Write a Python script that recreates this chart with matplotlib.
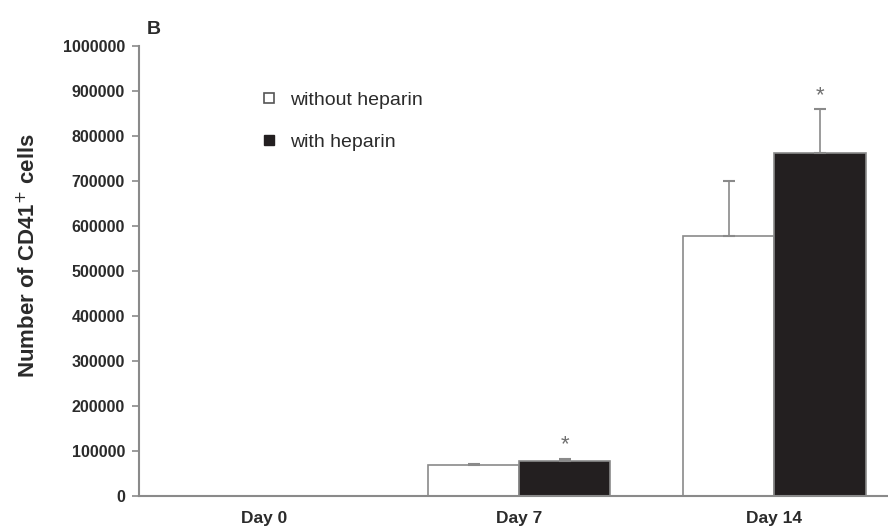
import numpy as np
import matplotlib.pyplot as plt
from matplotlib.lines import Line2D

plt.rcParams["font.family"] = ["Liberation Sans", "DejaVu Sans"]

days = ["Day 0", "Day 7", "Day 14"]
without_heparin = [0, 68000, 577000]
without_err = [0, 3000, 124000]
with_heparin = [0, 77000, 762000]
with_err = [0, 6000, 97000]
signif = [False, True, True]

AXIS_GREY = "#8a8a8a"
TEXT = "#2b2b2b"
BLACK_BAR = "#231f20"

fig = plt.figure(figsize=(8.88, 5.26), dpi=100)
ax = fig.add_axes([0.1565, 0.057, 0.845, 0.8555])

x = np.arange(len(days))
w = 0.357
ax.bar(x - w / 2, without_heparin, w, color="white", edgecolor=AXIS_GREY, linewidth=1.2)
ax.bar(x + w / 2, with_heparin, w, color=BLACK_BAR, edgecolor=AXIS_GREY, linewidth=1.2)

# one-sided error bars (upper only)
for xs, vals, errs in [(x - w / 2, without_heparin, without_err),
                       (x + w / 2, with_heparin, with_err)]:
    for xi, v, e in zip(xs, vals, errs):
        if e <= 0:
            continue
        ax.errorbar(xi, v, yerr=[[0], [e]], fmt="none", ecolor=AXIS_GREY,
                    elinewidth=1.2, capsize=4, capthick=1.5)

for xi, v, e, s in zip(x + w / 2, with_heparin, with_err, signif):
    if s:
        ax.text(xi, v + e + 8000, "*", ha="center", va="bottom",
                fontsize=16, color="#707070")

ax.set_xlim(-0.49, 2.45)
ax.set_ylim(0, 1000000)
ax.set_yticks(np.arange(0, 1000001, 100000))
ax.set_yticklabels([str(v) for v in range(0, 1000001, 100000)],
                   fontsize=11.5, fontweight="bold", color=TEXT)
ax.set_xticks(x)
ax.set_xticklabels(days, fontsize=12.5, fontweight="bold", color=TEXT)
ax.tick_params(axis="x", length=0, pad=11)
ax.tick_params(axis="y", length=5, color=AXIS_GREY, width=1.2, pad=5)

for side in ["top", "right"]:
    ax.spines[side].set_visible(False)
for side in ["left", "bottom"]:
    ax.spines[side].set_color(AXIS_GREY)
    ax.spines[side].set_linewidth(1.5)

ax.set_ylabel("Number of CD41$^{+}$ cells", fontsize=16, fontweight="bold",
              color=TEXT)
ax.yaxis.set_label_coords(-0.132, 0.535)

handles = [
    Line2D([], [], marker="s", linestyle="none", markersize=7,
           markerfacecolor="white", markeredgecolor="#555555", markeredgewidth=1.2),
    Line2D([], [], marker="s", linestyle="none", markersize=7,
           markerfacecolor=BLACK_BAR, markeredgecolor=BLACK_BAR),
]
leg = ax.legend(handles, ["without heparin", "with heparin"], loc="upper left",
                bbox_to_anchor=(0.137, 0.938), frameon=False, fontsize=14,
                labelspacing=1.25, handletextpad=0.6, handlelength=1.0)
for t in leg.get_texts():
    t.set_color(TEXT)

fig.text(0.165, 0.935, "B", fontsize=14, fontweight="bold", color=TEXT)

fig.savefig("out.png", dpi=100)
